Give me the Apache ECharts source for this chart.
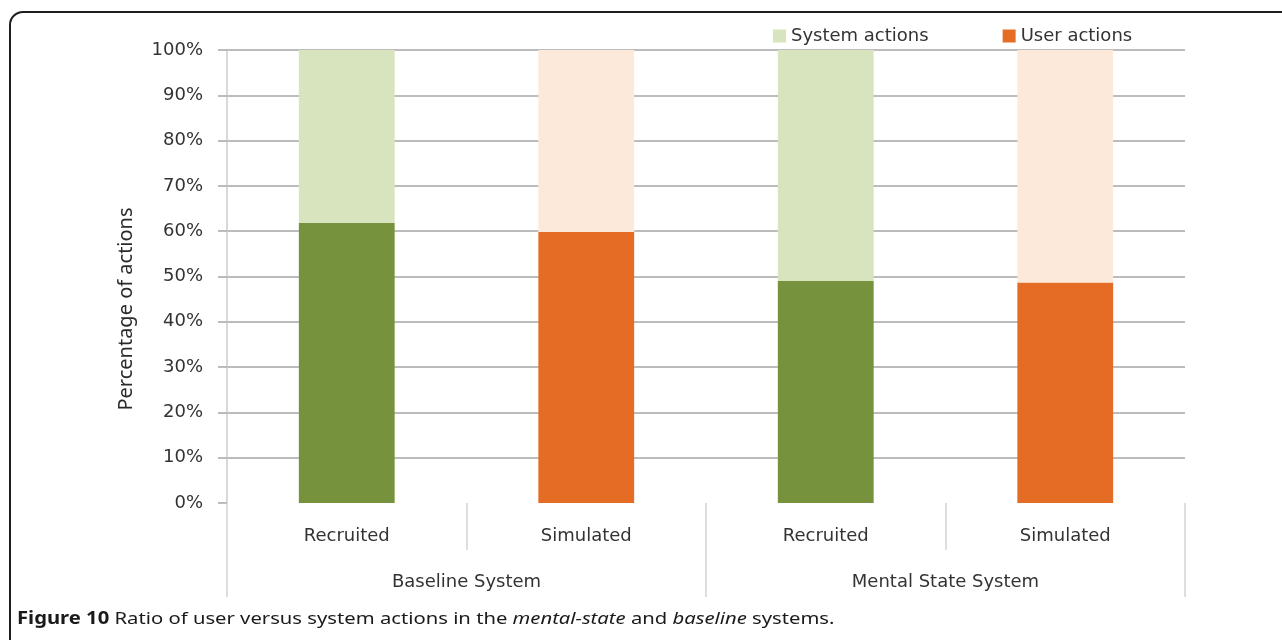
<!DOCTYPE html>
<html>
<head>
<meta charset="utf-8">
<script src="https://cdn.jsdelivr.net/npm/echarts@6/dist/echarts.min.js"></script>
<style>
  html, body { margin: 0; padding: 0; background: #fff; }
  #wrap { position: relative; width: 1282px; height: 640px; overflow: hidden; background: #fff; }
  #chart { position: absolute; left: 0; top: 0; width: 1282px; height: 640px; }
  #frame {
    position: absolute; left: 9px; top: 11px; width: 1320px; height: 700px;
    border: 2px solid #1e1e1e; border-radius: 14px; box-sizing: border-box; pointer-events: none;
  }
  #caption {
    position: absolute; left: 17px; top: 606px; font-family: "Noto Sans", sans-serif;
    font-size: 17px; color: #1a1a1a; white-space: nowrap;
    transform: scaleX(1.19); transform-origin: 0 50%;
  }
  #caption b { font-weight: 700; }
</style>
</head>
<body>
<div id="wrap">
  <div id="chart"></div>
  <div id="frame"></div>
  <div id="caption"><b>Figure 10</b> Ratio of user versus system actions in the <i>mental-state</i> and <i>baseline</i> systems.</div>
</div>
<script>
// Participant groups, one bar each, nested under the two systems
const groups = ['Recruited', 'Simulated', 'Recruited', 'Simulated'];
const systems = ['Baseline System', 'Mental State System'];

// Share of actions (%) per bar
const userActions = [61.8, 59.8, 49.0, 48.7];
const systemActions = [38.2, 40.2, 51.0, 51.3];

const yTicks = [0, 10, 20, 30, 40, 50, 60, 70, 80, 90, 100];

// Bar colours depend on the participant group
const userPalette = { Recruited: '#76923C', Simulated: '#E46C24' };
const systemPalette = { Recruited: '#D7E4BD', Simulated: '#FCE9DA' };

const FONT = 'DejaVu Sans';
const TEXT = '#333333';

const chart = echarts.init(document.getElementById('chart'), null, { renderer: 'canvas' });

chart.setOption({
  animation: false,
  backgroundColor: 'transparent',
  legend: {
    data: ['System actions', 'User actions'],
    left: 768,
    top: 22,
    itemWidth: 13,
    itemHeight: 13,
    itemGap: 74,
    icon: 'rect',
    textStyle: { fontFamily: FONT, fontSize: 18, color: TEXT }
  },
  grid: { left: 227, right: 97, top: 50, bottom: 137, containLabel: false },
  // Rotated value-axis title, sitting a little below the axis midpoint
  graphic: [{
    type: 'text',
    x: 126,
    y: 309,
    rotation: Math.PI / 2,
    style: {
      text: 'Percentage of actions',
      font: '20px "Noto Sans"',
      fill: '#2a2a2a',
      textAlign: 'center',
      textVerticalAlign: 'middle'
    }
  }],
  xAxis: [
    {
      type: 'category',
      data: groups,
      position: 'bottom',
      axisLine: { show: false },
      axisTick: { show: true, length: 47, lineStyle: { color: '#d4d4d4', width: 1.5 } },
      axisLabel: { margin: 24, fontFamily: FONT, fontSize: 18, color: TEXT, interval: 0 }
    },
    {
      type: 'category',
      data: systems,
      position: 'bottom',
      axisLine: { show: false },
      axisTick: { show: true, length: 94, lineStyle: { color: '#d4d4d4', width: 1.5 } },
      axisLabel: { margin: 70, fontFamily: FONT, fontSize: 18, color: TEXT, interval: 0 }
    }
  ],
  yAxis: {
    type: 'value',
    min: yTicks[0],
    max: yTicks[yTicks.length - 1],
    interval: 10,
    axisLine: { show: true, lineStyle: { color: '#cccccc', width: 1.5 } },
    axisTick: { show: true, length: 9, lineStyle: { color: '#a6a6a6', width: 1.5 } },
    axisLabel: { margin: 24, formatter: '{value}%', fontFamily: FONT, fontSize: 18, color: TEXT },
    splitLine: { show: true, showMinLine: false, lineStyle: { color: '#a6a6a6', width: 1.5 } }
  },
  series: [
    {
      name: 'User actions',
      type: 'bar',
      stack: 'share',
      barWidth: '40%',
      xAxisIndex: 0,
      data: userActions,
      color: userPalette.Simulated,
      itemStyle: { color: p => userPalette[groups[p.dataIndex]] }
    },
    {
      name: 'System actions',
      type: 'bar',
      stack: 'share',
      barWidth: '40%',
      xAxisIndex: 0,
      data: systemActions,
      color: systemPalette.Recruited,
      itemStyle: { color: p => systemPalette[groups[p.dataIndex]] }
    }
  ]
});
</script>
</body>
</html>
